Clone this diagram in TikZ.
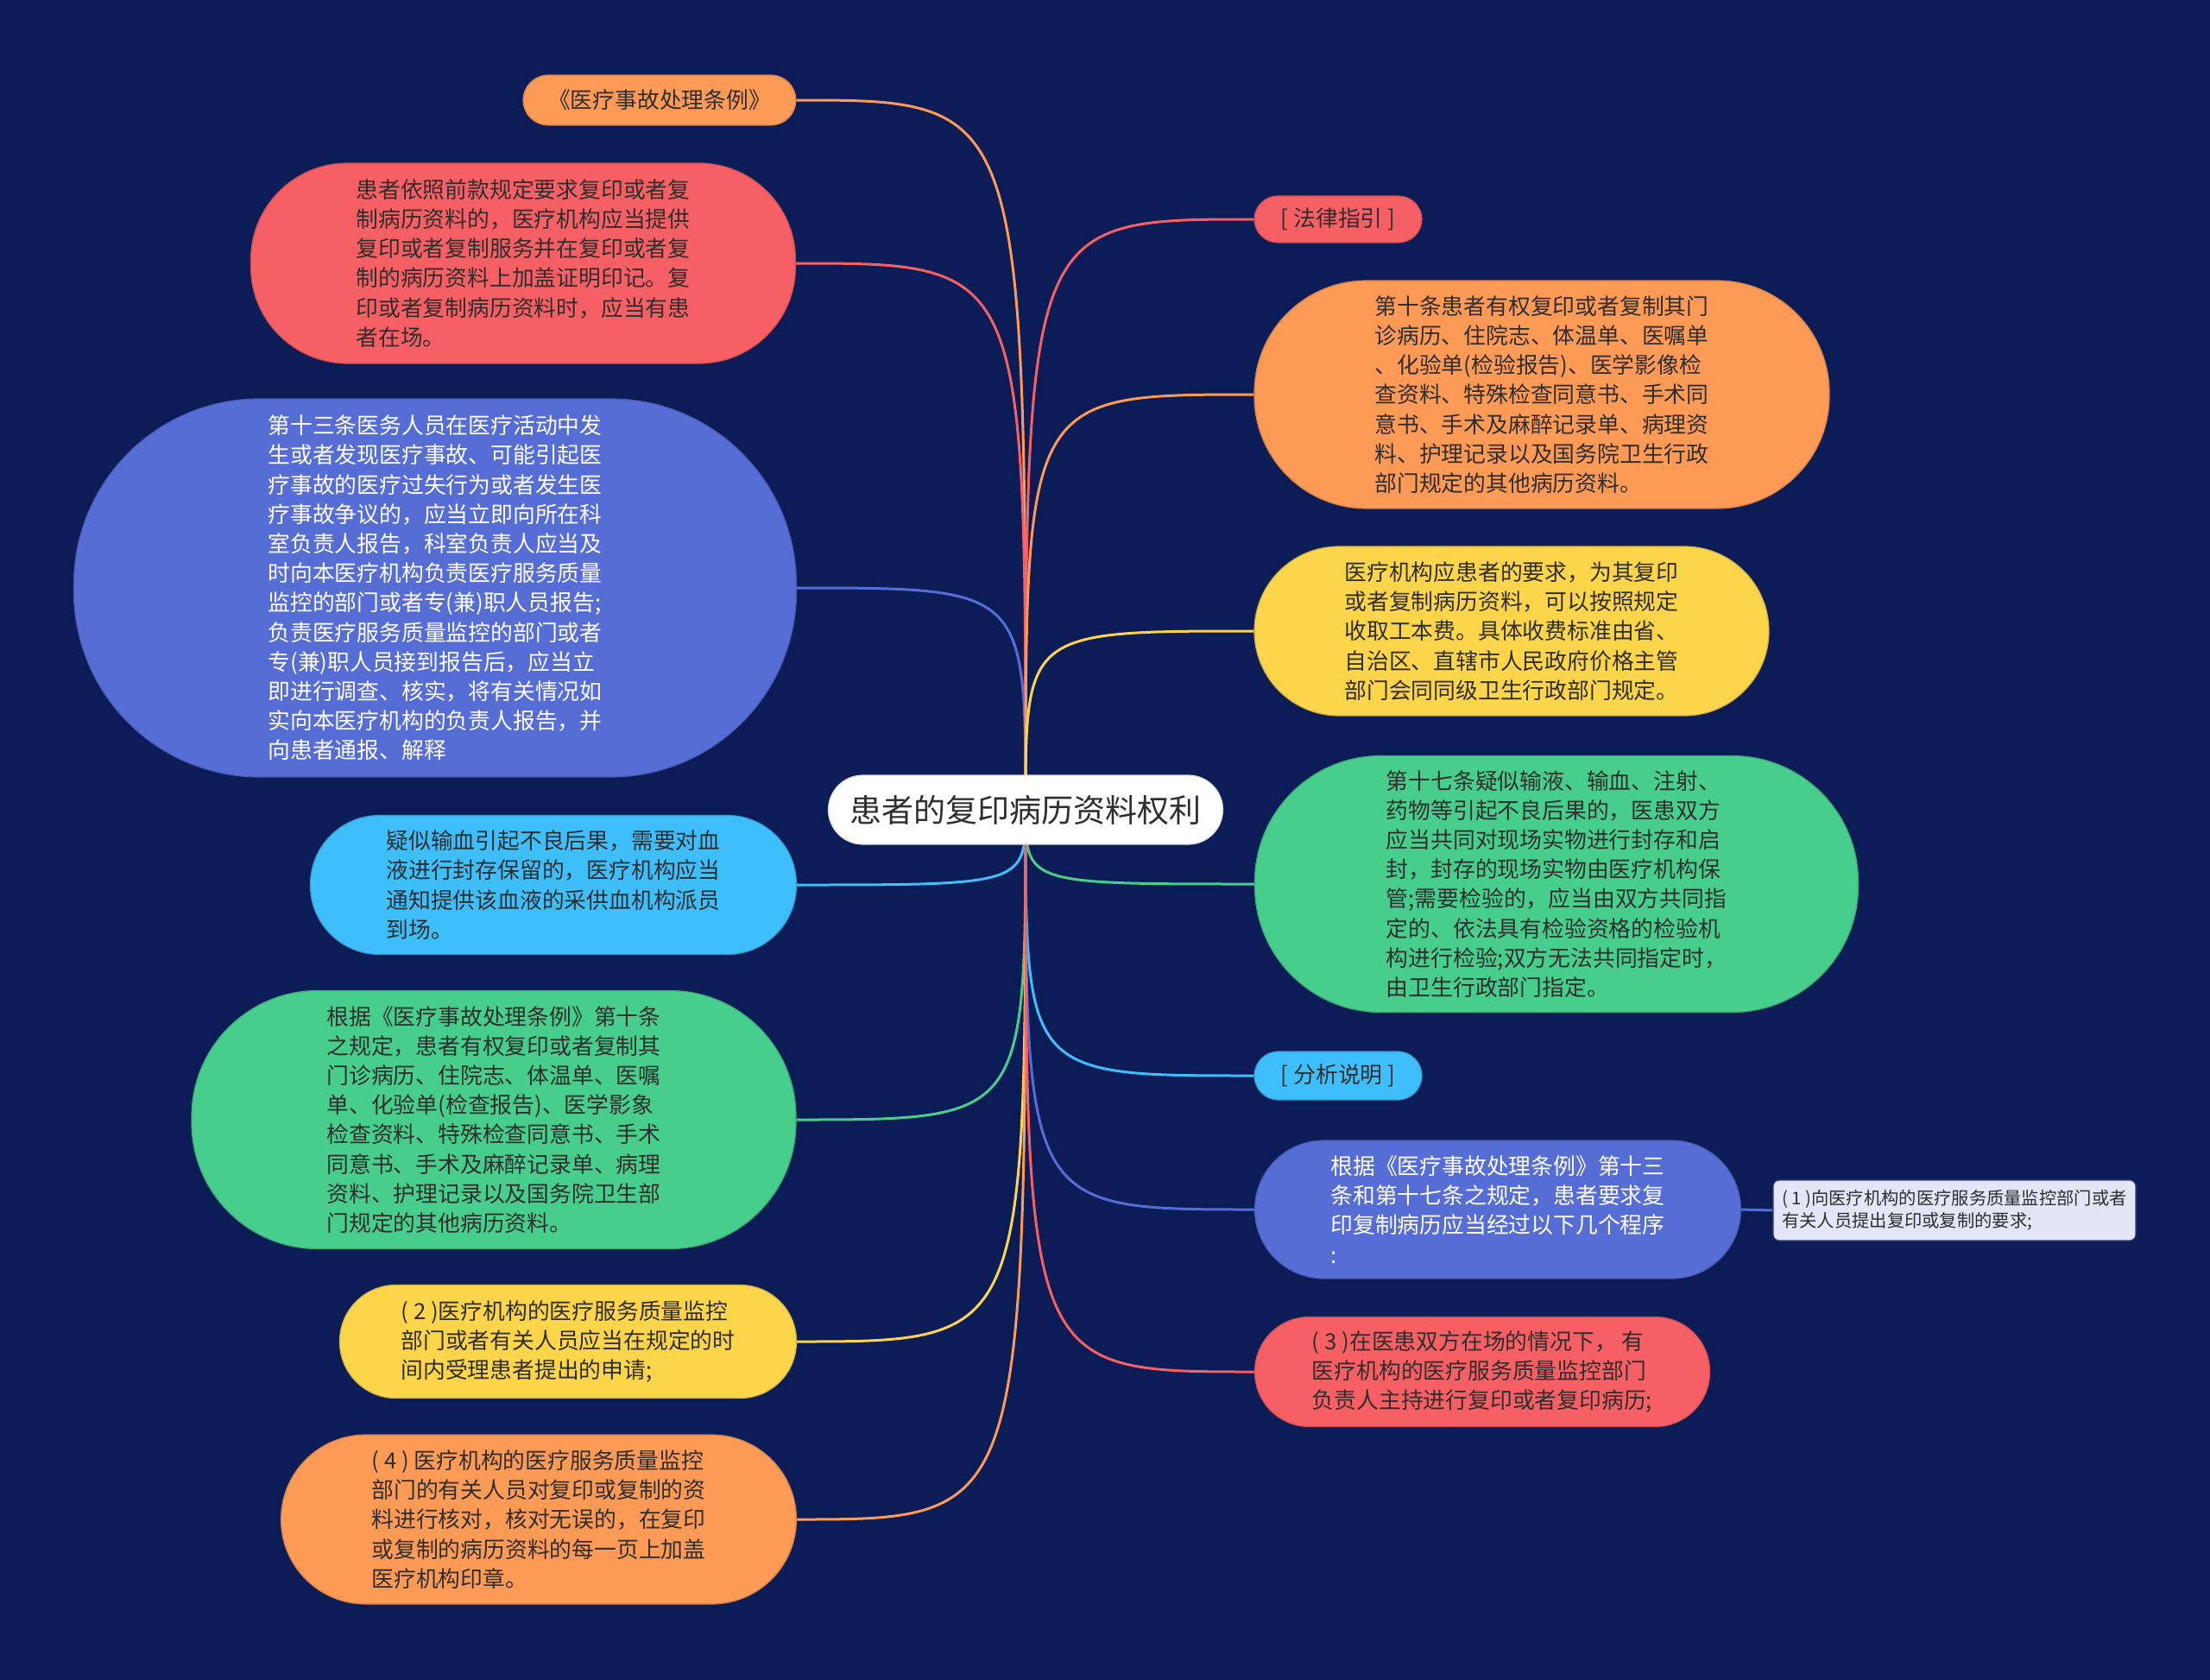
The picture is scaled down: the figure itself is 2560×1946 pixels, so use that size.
\documentclass[tikz,border=0pt]{standalone}
\usepackage{fontspec}
\setmainfont{Noto Sans CJK SC}
\pgfdeclarelayer{bglayer}
\pgfdeclarelayer{linklayer}
\pgfsetlayers{bglayer,linklayer,main}
\definecolor{bgc}{HTML}{0C1C56}
\definecolor{cOr}{HTML}{FD9A56}
\definecolor{cRd}{HTML}{F65F63}
\definecolor{cBl}{HTML}{566DD6}
\definecolor{cLb}{HTML}{3EBEFA}
\definecolor{cGr}{HTML}{47CE8C}
\definecolor{cYe}{HTML}{FDD54A}
\definecolor{cSm}{HTML}{E3E6F6}
\definecolor{txd}{HTML}{2E2E2E}
\tikzset{
  mmbox/.style={draw=#1!82!black, line width=1.2pt, fill=#1, align=left, inner sep=0pt,
    text=txd, font=\fontsize{25.8}{34.2}\selectfont},
  sz/.style n args={3}{minimum width=#1pt, minimum height=#2pt, rounded corners=#3pt},
  whitetext/.style={text=white},
  link/.style={line width=3pt, draw=#1},
  rootbox/.style={draw=white!85!black, line width=1.2pt, fill=white, inner sep=0pt,
    text=txd, font=\fontsize{37}{44}\selectfont, minimum width=457pt, minimum height=80pt, rounded corners=40pt},
  smallbox/.style={draw=cBl!60!black, line width=1.2pt, fill=cSm, align=left, inner sep=0pt,
    text=txd, font=\fontsize{20.3}{26}\selectfont, minimum width=420pt, minimum height=70pt, rounded corners=7pt}
}
\begin{document}
\begin{tikzpicture}[x=1pt,y=-1pt]
\begin{pgfonlayer}{bglayer}
\fill[bgc] (0,0) rectangle (2560,1946);
\end{pgfonlayer}
\useasboundingbox (0,0) rectangle (2560,1946);

% root
\node[rootbox] (root) at (1188,938) {患者的复印病历资料权利};

% left children
\node[mmbox=cOr, sz={316}{58}{29}] (L1) at (764,116) {《医疗事故处理条例》};
\node[mmbox=cRd, sz={631}{232}{112}] (L2) at (606,305) {患者依照前款规定要求复印或者复\\制病历资料的，医疗机构应当提供\\复印或者复制服务并在复印或者复\\制的病历资料上加盖证明印记。复\\印或者复制病历资料时，应当有患\\者在场。};
\node[mmbox=cBl, whitetext, sz={837}{438}{215}] (L3) at (504,681) {第十三条医务人员在医疗活动中发\\生或者发现医疗事故、可能引起医\\疗事故的医疗过失行为或者发生医\\疗事故争议的，应当立即向所在科\\室负责人报告，科室负责人应当及\\时向本医疗机构负责医疗服务质量\\监控的部门或者专(兼)职人员报告;\\负责医疗服务质量监控的部门或者\\专(兼)职人员接到报告后，应当立\\即进行调查、核实，将有关情况如\\实向本医疗机构的负责人报告，并\\向患者通报、解释};
\node[mmbox=cLb, sz={563}{161}{80}] (L4) at (641,1025) {疑似输血引起不良后果，需要对血\\液进行封存保留的，医疗机构应当\\通知提供该血液的采供血机构派员\\到场。};
\node[mmbox=cGr, sz={700}{299}{146}] (L5) at (572,1297) {根据《医疗事故处理条例》第十条\\之规定，患者有权复印或者复制其\\门诊病历、住院志、体温单、医嘱\\单、化验单(检查报告)、医学影象\\检查资料、特殊检查同意书、手术\\同意书、手术及麻醉记录单、病理\\资料、护理记录以及国务院卫生部\\门规定的其他病历资料。};
\node[mmbox=cYe, sz={529}{131}{65}] (L6) at (658,1554) {( 2 )医疗机构的医疗服务质量监控\\部门或者有关人员应当在规定的时\\间内受理患者提出的申请;};
\node[mmbox=cOr, sz={597}{196}{98}] (L7) at (624,1760) {( 4 ) 医疗机构的医疗服务质量监控\\部门的有关人员对复印或复制的资\\料进行核对，核对无误的，在复印\\或复制的病历资料的每一页上加盖\\医疗机构印章。};

% right children
\node[mmbox=cRd, sz={194}{54}{27}] (R1) at (1550,254) {[ 法律指引 ]};
\node[mmbox=cOr, sz={666}{264}{130}] (R2) at (1786,457) {第十条患者有权复印或者复制其门\\诊病历、住院志、体温单、医嘱单\\、化验单(检验报告)、医学影像检\\查资料、特殊检查同意书、手术同\\意书、手术及麻醉记录单、病理资\\料、护理记录以及国务院卫生行政\\部门规定的其他病历资料。};
\node[mmbox=cYe, sz={596}{196}{98}] (R3) at (1751,731) {医疗机构应患者的要求，为其复印\\或者复制病历资料，可以按照规定\\收取工本费。具体收费标准由省、\\自治区、直辖市人民政府价格主管\\部门会同同级卫生行政部门规定。};
\node[mmbox=cGr, sz={699}{297}{146}] (R4) at (1803,1024) {第十七条疑似输液、输血、注射、\\药物等引起不良后果的，医患双方\\应当共同对现场实物进行封存和启\\封，封存的现场实物由医疗机构保\\管;需要检验的，应当由双方共同指\\定的、依法具有检验资格的检验机\\构进行检验;双方无法共同指定时，\\由卫生行政部门指定。};
\node[mmbox=cLb, sz={194}{56}{28}] (R5) at (1550,1246) {[ 分析说明 ]};
\node[mmbox=cBl, whitetext, sz={563}{160}{80}] (R6) at (1735,1401) {根据《医疗事故处理条例》第十三\\条和第十七条之规定，患者要求复\\印复制病历应当经过以下几个程序\\:};
\node[smallbox] (R7) at (2264,1402) {( 1 )向医疗机构的医疗服务质量监控部门或者\\有关人员提出复印或复制的要求;};
\node[mmbox=cRd, sz={527}{127}{63}] (R8) at (1717,1589) {( 3 )在医患双方在场的情况下， 有\\医疗机构的医疗服务质量监控部门\\负责人主持进行复印或者复印病历;};

% connectors
\begin{pgfonlayer}{linklayer}
\foreach \n/\c in {L1/cOr, L2/cRd, L3/cBl, L4/cLb, L5/cGr, L6/cYe, L7/cOr}{
  \draw[link=\c] (root.center) .. controls (root.center |- \n.east) .. (\n.east);
}
\foreach \n/\c in {R1/cRd, R2/cOr, R3/cYe, R4/cGr, R5/cLb, R6/cBl, R8/cRd}{
  \draw[link=\c] (root.center) .. controls (root.center |- \n.west) .. (\n.west);
}
\draw[link=cBl] (R6.east) -- (R7.west);
\end{pgfonlayer}
\end{tikzpicture}
\end{document}
